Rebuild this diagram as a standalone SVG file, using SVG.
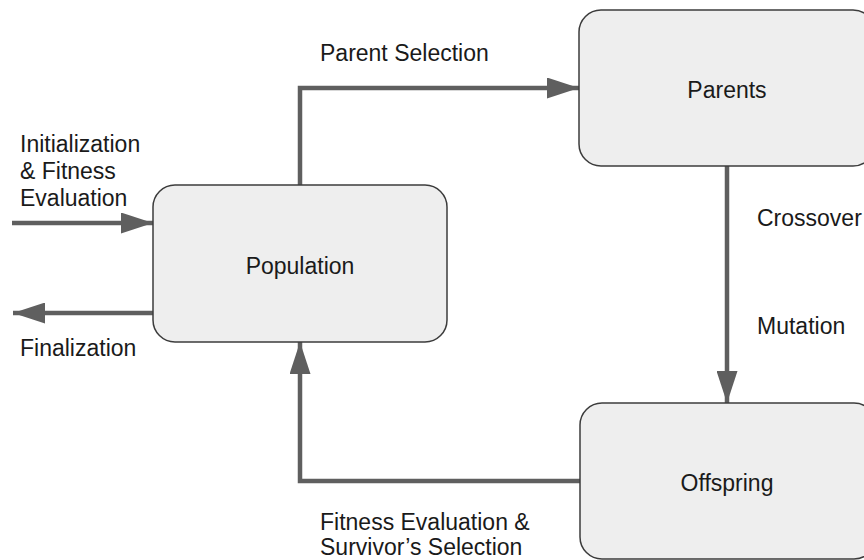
<svg xmlns="http://www.w3.org/2000/svg" width="864" height="560" viewBox="0 0 864 560">
  <defs>
    <marker id="arrow" viewBox="0 0 32 21" refX="32" refY="10.5" markerWidth="32" markerHeight="21" markerUnits="userSpaceOnUse" orient="auto">
      <path d="M0,0 L32,10.5 L0,21 Z" fill="#5f5f5f"/>
    </marker>
  </defs>
  <style>
    .node rect { fill: #eeeeee; stroke: #3c3c3c; stroke-width: 1.5; }
    .node text, .label { font-family: "Liberation Sans", Arial, sans-serif; font-size: 23px; fill: #1a1a1a; }
    .node text { text-anchor: middle; }
    .edge { fill: none; stroke: #5f5f5f; stroke-width: 4.5; marker-end: url(#arrow); }
  </style>
  <rect width="864" height="560" fill="#ffffff"/>

  <!-- connectors -->
  <g id="connectors">
    <path class="edge" d="M12,223 H153"/>
    <path class="edge" d="M153,313 H13"/>
    <path class="edge" d="M300,185 V88 H579"/>
    <path class="edge" d="M727,166 V403"/>
    <path class="edge" d="M580,481 H300 V342"/>
  </g>

  <!-- nodes -->
  <g id="population" class="node">
    <rect x="153" y="185" width="294" height="157" rx="22" ry="22"/>
    <text x="300" y="274">Population</text>
  </g>
  <g id="parents" class="node">
    <rect x="579" y="10" width="296" height="156" rx="22" ry="22"/>
    <text x="727" y="98">Parents</text>
  </g>
  <g id="offspring" class="node">
    <rect x="580" y="403" width="296" height="156" rx="22" ry="22"/>
    <text x="727" y="491">Offspring</text>
  </g>

  <!-- edge labels -->
  <g id="labels">
    <text class="label" x="320" y="61">Parent Selection</text>
    <text class="label" x="757" y="226">Crossover</text>
    <text class="label" x="757" y="334">Mutation</text>
    <text class="label" x="20" y="152">Initialization</text>
    <text class="label" x="20" y="179">&amp; Fitness</text>
    <text class="label" x="20" y="206">Evaluation</text>
    <text class="label" x="20" y="356">Finalization</text>
    <text class="label" x="320" y="530">Fitness Evaluation &amp;</text>
    <text class="label" x="320" y="555">Survivor’s Selection</text>
  </g>
</svg>
